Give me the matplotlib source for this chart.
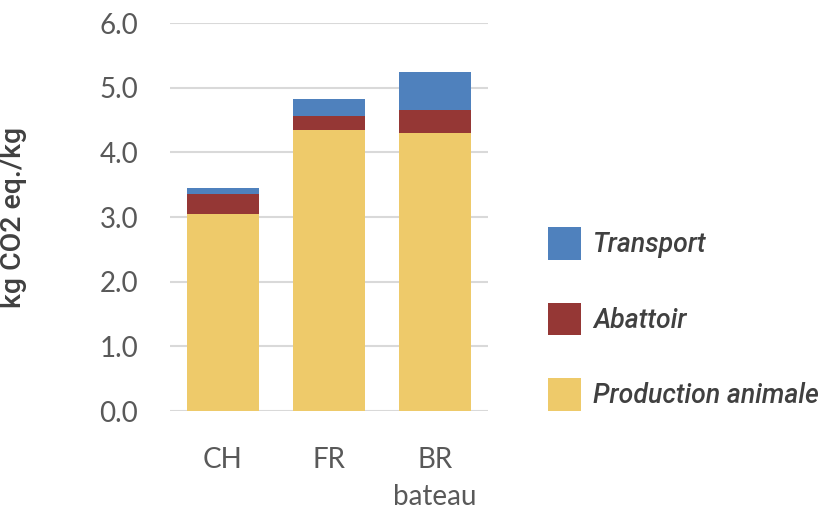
import matplotlib
matplotlib.use("Agg")
import matplotlib.pyplot as plt
from matplotlib.patches import Patch
import numpy as np

categories = ["CH", "FR", "BR\nbateau"]
production_animale = [3.04, 4.35, 4.30]
abattoir = [0.31, 0.21, 0.36]
transport = [0.10, 0.26, 0.58]
yticks = [0.0, 1.0, 2.0, 3.0, 4.0, 5.0, 6.0]
series_labels = ["Production animale", "Abattoir", "Transport"]
colors = ["#EECA6A", "#953735", "#4F81BD"]

fig = plt.figure(figsize=(8.23, 5.16), dpi=100)
ax = fig.add_axes([170/823, 1-411/516, 318/823, 388/516])

x = np.arange(len(categories))
w = 0.67
bottom = np.zeros(len(categories))
for vals, col, lab in zip([production_animale, abattoir, transport], colors, series_labels):
    ax.bar(x, vals, w, bottom=bottom, color=col, label=lab, zorder=3)
    bottom = bottom + np.array(vals)

ax.set_xlim(-0.5, 2.5)
ax.set_ylim(0, 6.0)
ax.set_yticks(yticks)
ax.set_yticklabels([f"{v:.1f}" for v in yticks])
ax.set_xticks(x)
ax.set_xticklabels(categories, linespacing=1.5)
ax.yaxis.grid(True, color="#D9D9D9", linewidth=1.5, zorder=0)
ax.set_axisbelow(True)
for s in ax.spines.values():
    s.set_visible(False)
ax.tick_params(axis="both", length=0, colors="#595959", labelsize=20)
ax.tick_params(axis="y", pad=23)
ax.tick_params(axis="x", pad=26)
for t in ax.get_xticklabels() + ax.get_yticklabels():
    t.set_fontfamily("Lato")

ax.set_ylabel("kg CO2 eq./kg", fontsize=20.5, fontweight="medium", family="Roboto",
              color="#404040")
ax.yaxis.set_label_coords(-143/318, 0.5)

handles = [Patch(facecolor=c) for c in colors][::-1]
labels = series_labels[::-1]
leg = fig.legend(handles, labels, loc="upper left", bbox_to_anchor=(548/823, 1-227/516),
                 frameon=False, prop={"family": "Roboto", "style": "italic", "size": 19.2, "weight": "medium"},
                 handlelength=1.24, handleheight=1.52, labelspacing=1.6, handletextpad=0.45,
                 borderpad=0, borderaxespad=0)
for t in leg.get_texts():
    t.set_color("#404040")

fig.savefig("out.png", dpi=100)
